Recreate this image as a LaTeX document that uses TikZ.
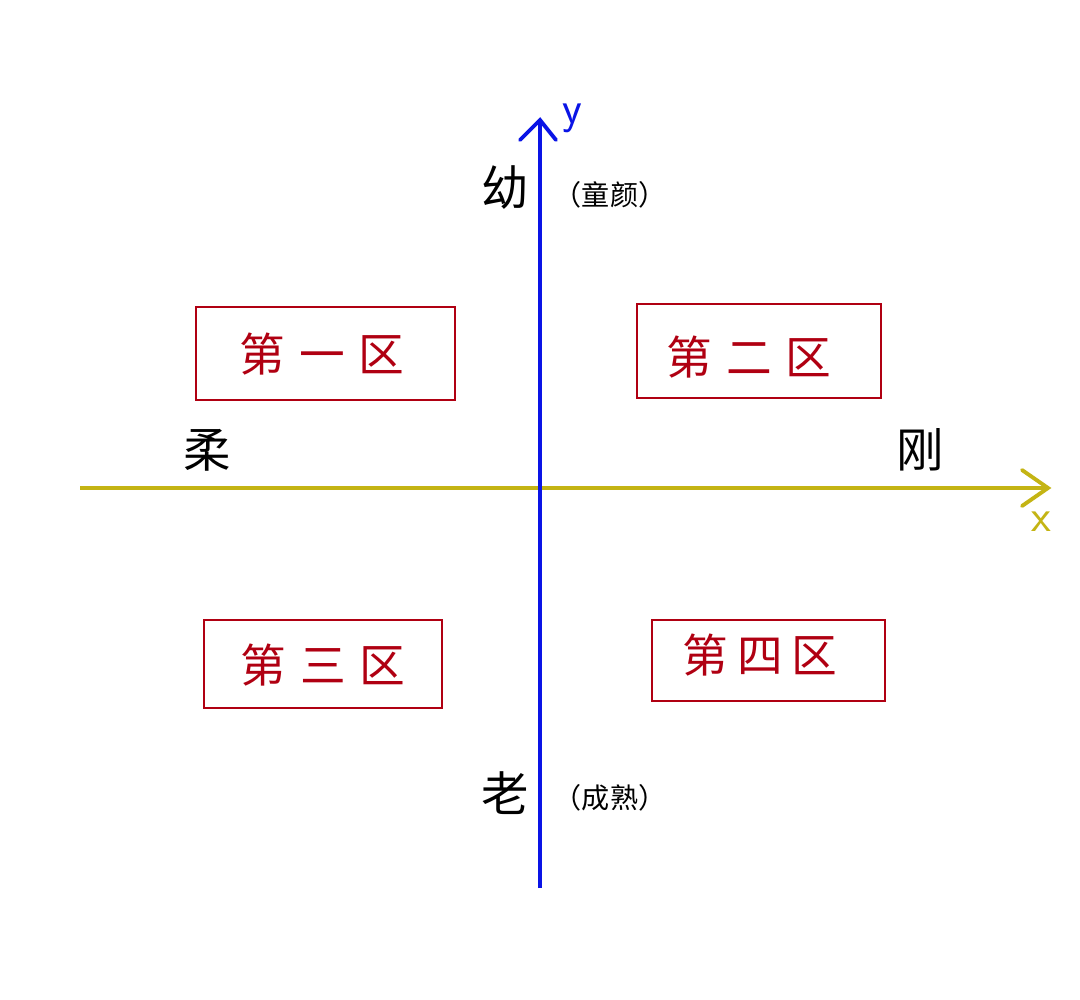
\documentclass[tikz,border=0pt]{standalone}
\usepackage{fontspec}
\newfontfamily\cjk{Noto Sans CJK SC}
\definecolor{zred}{HTML}{B00012}
\definecolor{yax}{HTML}{0A14E6}
\definecolor{xax}{HTML}{C4B414}
\begin{document}
\begin{tikzpicture}[x=0.02cm,y=-0.02cm,
 zone/.style={draw=zred,line width=1.2pt,text=zred,font=\cjk\fontsize{26}{30}\selectfont,minimum width=0pt},
 big/.style={font=\cjk\fontsize{27}{30}\selectfont},
 small/.style={font=\cjk\fontsize{16}{20}\selectfont}]
\useasboundingbox (0,0) rectangle (1080,1000);
\fill[white] (0,0) rectangle (1080,1000);
\coordinate (xs) at (80,488); \coordinate (xe) at (1048,488);
\coordinate (ys) at (540,888); \coordinate (ye) at (540,120);
\draw[xax,line width=2.2pt] (xs) -- (xe);
\draw[xax,line width=2.2pt,line cap=round] (1022,470) -- (1048,488) -- (1022,506);
\draw[yax,line width=2.2pt] (ys) -- (ye);
\draw[yax,line width=2.2pt,line cap=round] (520,140) -- (540,120) -- (556,140);
\node[text=yax,font=\sffamily\fontsize{26}{28}\selectfont] (ylab) at (572,118) {y};
\node[text=xax,font=\sffamily\fontsize{26}{28}\selectfont] (xlab) at (1041,522) {x};
\draw[zred,line width=1.2pt] (196,307) rectangle (455,400);
\node[zone,draw=none] (z1) at (322,354) {第\hspace{0.3em}一\hspace{0.3em}区};
\draw[zred,line width=1.2pt] (637,304) rectangle (881,398);
\node[zone,draw=none] (z2) at (749,357) {第\hspace{0.3em}二\hspace{0.3em}区};
\draw[zred,line width=1.2pt] (204,620) rectangle (442,708);
\node[zone,draw=none] (z3) at (323,665) {第\hspace{0.3em}三\hspace{0.3em}区};
\draw[zred,line width=1.2pt] (652,620) rectangle (885,701);
\node[zone,draw=none] (z4) at (760,655) {第\hspace{0.2em}四\hspace{0.2em}区};
\node[big] (you) at (505,188) {幼};
\node[small] (ty) at (610,195) {（童颜）};
\node[big] (rou) at (207,450) {柔};
\node[big] (gang) at (920,450) {刚};
\node[big] (lao) at (505,793) {老};
\node[small] (cs) at (610,798) {（成熟）};
\end{tikzpicture}
\end{document}
